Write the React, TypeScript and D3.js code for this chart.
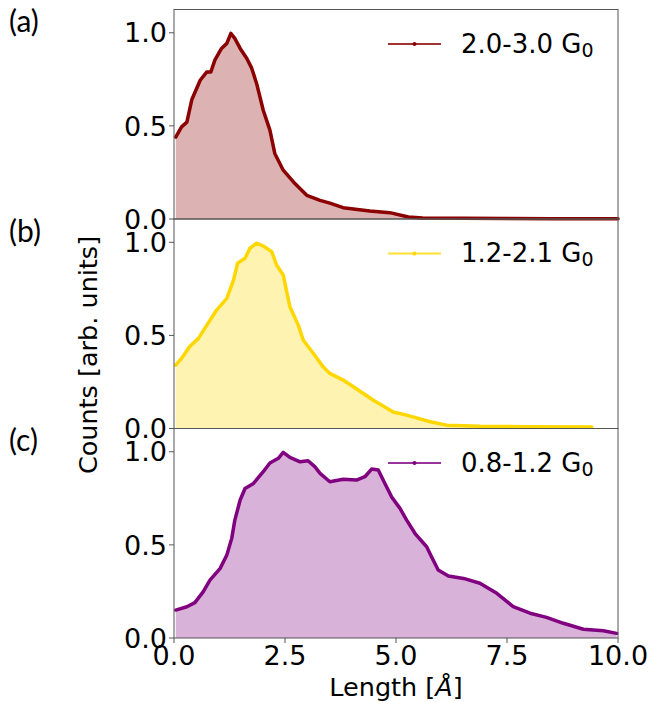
import React from "react";
import * as d3 from "d3";

// ---- data ----
const xA = [0.04, 0.17, 0.29, 0.40, 0.59, 0.74, 0.83, 0.92, 1.07, 1.19, 1.28, 1.37, 1.49, 1.64, 1.75, 1.86, 2.01, 2.16, 2.27, 2.46, 2.69, 2.99, 3.29, 3.51, 3.81, 4.41, 4.86, 5.28, 5.6, 6.5, 7.5, 8.5, 9.5, 10.0];
const yA = [0.44, 0.495, 0.52, 0.64, 0.745, 0.79, 0.79, 0.853, 0.916, 0.943, 0.997, 0.97, 0.916, 0.862, 0.81, 0.728, 0.584, 0.477, 0.352, 0.262, 0.199, 0.127, 0.10, 0.085, 0.061, 0.043, 0.034, 0.011, 0.006, 0.004, 0.003, 0.002, 0.002, 0.002];

const xB = [0.04, 0.17, 0.35, 0.55, 0.74, 0.96, 1.19, 1.34, 1.43, 1.60, 1.71, 1.86, 2.01, 2.20, 2.31, 2.46, 2.61, 2.80, 2.91, 3.14, 3.36, 3.51, 3.81, 4.04, 4.49, 4.94, 5.24, 5.77, 6.14, 6.89, 8.02, 9.41];
const yB = [0.34, 0.376, 0.439, 0.484, 0.555, 0.636, 0.699, 0.797, 0.887, 0.914, 0.968, 0.995, 0.98, 0.95, 0.878, 0.824, 0.654, 0.555, 0.475, 0.403, 0.331, 0.296, 0.26, 0.224, 0.152, 0.089, 0.072, 0.036, 0.018, 0.012, 0.009, 0.008];

const xC = [0.04, 0.29, 0.47, 0.66, 0.81, 1.04, 1.19, 1.30, 1.37, 1.49, 1.60, 1.79, 2.01, 2.16, 2.35, 2.46, 2.61, 2.84, 3.02, 3.17, 3.29, 3.51, 3.81, 4.11, 4.30, 4.45, 4.60, 4.75, 4.90, 5.09, 5.24, 5.43, 5.69, 5.80, 5.95, 6.18, 6.52, 6.89, 7.27, 7.64, 8.02, 8.39, 8.77, 9.22, 9.67, 9.97];
const yC = [0.15, 0.168, 0.19, 0.249, 0.311, 0.374, 0.446, 0.535, 0.633, 0.741, 0.803, 0.83, 0.893, 0.94, 0.965, 0.997, 0.97, 0.946, 0.952, 0.92, 0.884, 0.839, 0.852, 0.848, 0.866, 0.907, 0.902, 0.83, 0.758, 0.696, 0.633, 0.561, 0.49, 0.436, 0.365, 0.333, 0.32, 0.294, 0.24, 0.168, 0.133, 0.111, 0.079, 0.047, 0.039, 0.025];

const seriesNames = ["2.0-3.0 G", "1.2-2.1 G", "0.8-1.2 G"];
const panelLetters = ["(a)", "(b)", "(c)"];
const lineColors = ["#8b0000", "#ffd700", "#800080"];
const xTicks = [0, 2.5, 5, 7.5, 10];
const yTicks = [0, 0.5, 1.0];

const W = 648;
const H = 702;
const left = 174;
const right = 618;
const top0 = 9.5;
const ph = 209.5;

export default function App() {
  const x = d3.scaleLinear().domain([0, 10]).range([left, right]);
  const data = [
    xA.map((v, i) => [v, yA[i]] as [number, number]),
    xB.map((v, i) => [v, yB[i]] as [number, number]),
    xC.map((v, i) => [v, yC[i]] as [number, number]),
  ];
  const font = "DejaVu Sans, sans-serif";
  return (
    <svg width={W} height={H} style={{ position: "absolute", left: 0, top: 0, background: "#fff" }}>
      <defs>
        {data.map((_, i) => (
          <clipPath id={`clip${i}`} key={i}>
            <rect x={left} y={top0 + i * ph} width={right - left} height={ph} />
          </clipPath>
        ))}
      </defs>
      {data.map((d, i) => {
        const t = top0 + i * ph;
        const y = d3.scaleLinear().domain([0, 1.125]).range([t + ph, t]);
        const area = d3.area<[number, number]>().x((p) => x(p[0])).y0(y(0)).y1((p) => y(p[1]));
        const line = d3.line<[number, number]>().x((p) => x(p[0])).y((p) => y(p[1]));
        const col = lineColors[i];
        return (
          <g key={i}>
            <g clipPath={`url(#clip${i})`}>
              <path d={area(d) || ""} fill={col} fillOpacity={0.3} />
            </g>
            <path d={line(d) || ""} fill="none" stroke={col} strokeWidth={3.5} strokeLinejoin="round" strokeLinecap="round" />
            <rect x={left} y={t} width={right - left} height={ph} fill="none" stroke="#555" strokeWidth={1} />
            {yTicks.map((v) => (
              <g key={v}>
                <line x1={left - 5} x2={left} y1={y(v)} y2={y(v)} stroke="#555" strokeWidth={1} />
                <text x={left - 7} y={y(v)} dy="0.36em" textAnchor="end" fontFamily={font} fontSize={27} fill="#000">
                  {v.toFixed(1)}
                </text>
              </g>
            ))}
            {/* legend */}
            <line x1={388} x2={441} y1={t + 34.5} y2={t + 34.5} stroke={col} strokeWidth={1.8} strokeOpacity={0.8} />
            <circle cx={414.5} cy={t + 34.5} r={2} fill={col} />
            <text x={461} y={t + 43} fontFamily={font} fontSize={26} fill="#000">
              {seriesNames[i]}
              <tspan fontSize={19} dy={4}>0</tspan>
            </text>
            <text x={9} y={t + 12} dy="0.36em" fontFamily="Lato, Open Sans, sans-serif" fontSize={30} fill="#000">
              {panelLetters[i]}
            </text>
          </g>
        );
      })}
      {xTicks.map((v) => (
        <g key={v}>
          <line x1={x(v)} x2={x(v)} y1={top0 + 3 * ph} y2={top0 + 3 * ph + 5} stroke="#555" strokeWidth={1} />
          <text x={x(v)} y={665} textAnchor="middle" fontFamily={font} fontSize={27} fill="#000">
            {v.toFixed(1)}
          </text>
        </g>
      ))}
      <text x={(left + right) / 2} y={696} textAnchor="middle" fontFamily={font} fontSize={25.5} fill="#000">
        Length [<tspan fontStyle="italic">Å</tspan>]
      </text>
      <text transform={`translate(97,355) rotate(-90)`} textAnchor="middle" fontFamily={font} fontSize={25.5} fill="#000">
        Counts [arb. units]
      </text>
    </svg>
  );
}
